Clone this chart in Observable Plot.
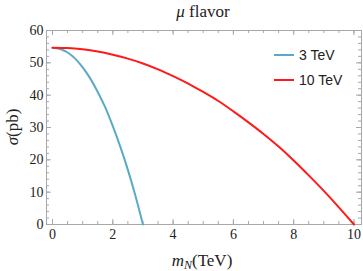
<!DOCTYPE html>
<html><head><meta charset="utf-8">
<script src="https://cdn.jsdelivr.net/npm/d3@7"></script>
<script src="https://cdn.jsdelivr.net/npm/@observablehq/plot@0.6"></script>
<style>body{margin:0;background:#fff}</style>
</head><body><div id="chart"></div>
<script>
// values
const mass3   = [0, 0.25, 0.5, 0.75, 1.0, 1.25, 1.5, 1.75, 2.0, 2.25, 2.5, 2.75, 3.0];
const sigma3  = [54.7, 54.3, 53.2, 51.3, 48.6, 45.2, 41.0, 36.2, 30.4, 24.0, 16.9, 8.9, 0];
const mass10  = [0, 0.5, 1, 1.5, 2, 2.5, 3, 3.5, 4, 4.5, 5, 5.5, 6, 6.5, 7, 7.5, 8, 8.5, 9, 9.5, 10];
const sigma10 = [54.7, 54.6, 54.2, 53.5, 52.5, 51.3, 49.8, 48.0, 45.9, 43.6, 41.0, 38.2, 35.0, 31.6, 28.0, 24.1, 19.8, 15.2, 10.4, 5.3, 0];
const seriesNames  = ["3 TeV", "10 TeV"];
const seriesColors = ["#5aaac6", "#ff1a1a"];
const xTicks = [0, 2, 4, 6, 8, 10];
const yTicks = [0, 10, 20, 30, 40, 50, 60];
const xMinor = d3.range(0, 10.01, 0.5);
const yMinor = d3.range(0, 60.01, 2);

const rows = [
  ...mass3.map((m, i) => ({m, s: sigma3[i], series: seriesNames[0]})),
  ...mass10.map((m, i) => ({m, s: sigma10[i], series: seriesNames[1]}))
];

const WIDTH = 363, HEIGHT = 271;
const ML = 46, MR = 2, MT = 30, MB = 47;
const IW = WIDTH - ML - MR, IH = HEIGHT - MT - MB;
const frameColor = "#a8a8a8";
const serif = "'Liberation Serif', 'Times New Roman', serif";
const sans = "'Liberation Sans', Arial, sans-serif";

const chart = Plot.plot({
  width: WIDTH, height: HEIGHT,
  marginLeft: ML, marginRight: MR, marginTop: MT, marginBottom: MB,
  x: {domain: [-0.2, 10.25]},
  y: {domain: [0, 60]},
  color: {domain: seriesNames, range: seriesColors},
  style: {background: "#fff", fontFamily: serif, fontSize: "14px"},
  marks: [
    Plot.frame({stroke: frameColor}),
    Plot.ruleX(xTicks, {stroke: frameColor, insetTop: IH - 5}),
    Plot.ruleX(xTicks, {stroke: frameColor, insetBottom: IH - 5}),
    Plot.ruleX(xMinor, {stroke: frameColor, insetTop: IH - 3}),
    Plot.ruleX(xMinor, {stroke: frameColor, insetBottom: IH - 3}),
    Plot.ruleY(yTicks, {stroke: frameColor, insetRight: IW - 5}),
    Plot.ruleY(yTicks, {stroke: frameColor, insetLeft: IW - 5}),
    Plot.ruleY(yMinor, {stroke: frameColor, insetRight: IW - 3}),
    Plot.ruleY(yMinor, {stroke: frameColor, insetLeft: IW - 3}),
    Plot.axisX({ticks: xTicks, tickSize: 0, tickPadding: 5, label: null, fontSize: 14, fill: "#222"}),
    Plot.axisY({ticks: yTicks, tickSize: 0, tickPadding: 3, label: null, fontSize: 14, fill: "#222"}),
    Plot.line(rows, {x: "m", y: "s", z: "series", stroke: "series", strokeWidth: 2, curve: "monotone-x"})
  ]
});
document.getElementById("chart").append(chart);

const svg = d3.select(chart);
svg.selectAll("text").style("font-family", serif);
const t = svg.append("text").attr("x", 203).attr("y", 17).attr("text-anchor", "middle")
  .style("font-family", serif).attr("font-size", 17).attr("fill", "#222");
t.append("tspan").attr("font-style", "italic").text("μ");
t.append("tspan").text(" flavor");
const yl = svg.append("text").attr("transform", "translate(18,127) rotate(-90)").attr("text-anchor", "middle")
  .style("font-family", serif).attr("font-size", 17).attr("fill", "#222");
yl.append("tspan").attr("font-style", "italic").text("σ");
yl.append("tspan").text("(pb)");
const xl = svg.append("text").attr("x", 202).attr("y", 266).attr("text-anchor", "middle")
  .style("font-family", serif).attr("font-size", 17).attr("fill", "#222");
xl.append("tspan").attr("font-style", "italic").text("m");
xl.append("tspan").attr("font-style", "italic").attr("font-size", 12).attr("dy", 3).text("N");
xl.append("tspan").attr("dy", -3).text("(TeV)");
seriesNames.forEach((name, i) => {
  const y = 55 + i * 25;
  svg.append("line").attr("x1", 274).attr("x2", 294).attr("y1", y).attr("y2", y)
    .attr("stroke", seriesColors[i]).attr("stroke-width", 2);
  svg.append("text").attr("x", 299).attr("y", y + 5).attr("text-anchor", "start")
    .style("font-family", sans).attr("font-size", 14).attr("fill", "#222").text(name);
});
</script>
</body></html>
